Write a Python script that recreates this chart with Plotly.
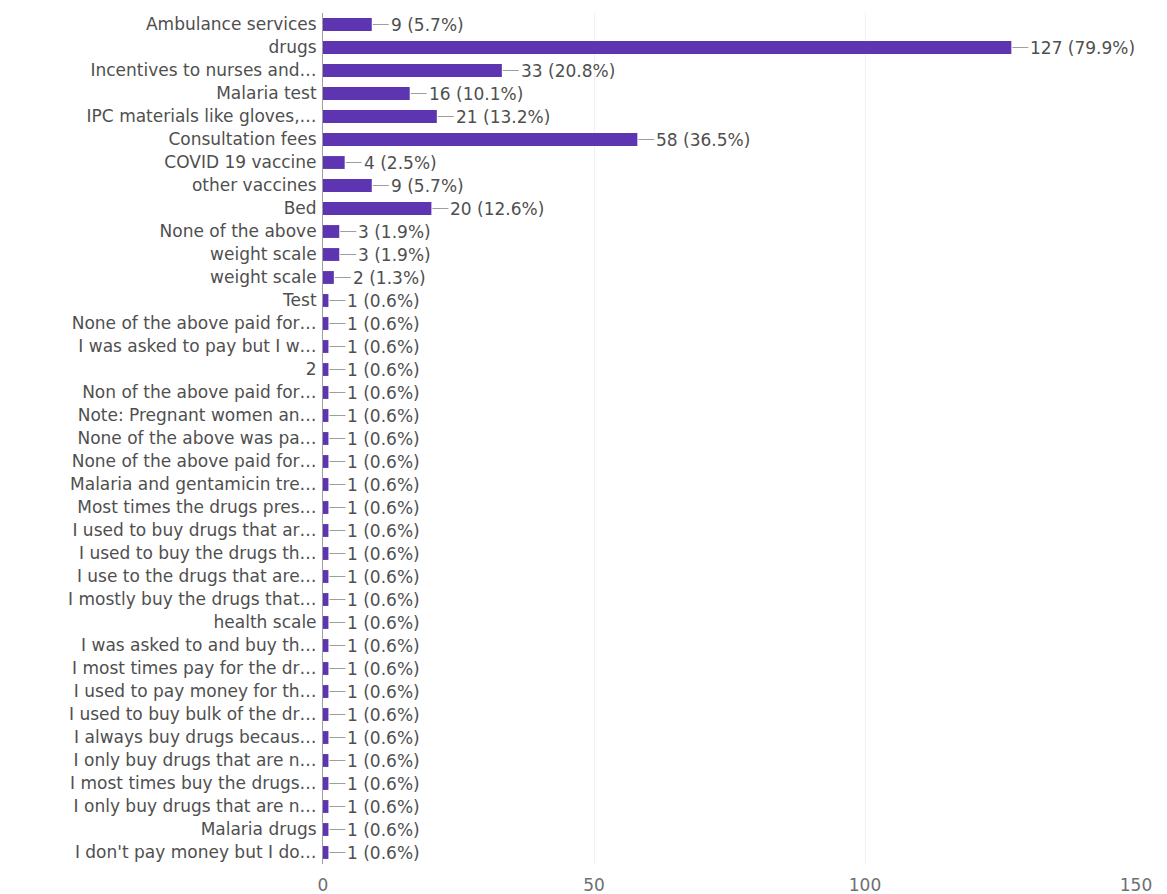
"""
Horizontal bar chart of what respondents paid for (Google Forms style summary).
"""
import plotly.graph_objects as go

# answers in the order they appear, top to bottom
answers = [
    "Ambulance services",
    "drugs",
    "Incentives to nurses and…",
    "Malaria test",
    "IPC materials like gloves,…",
    "Consultation fees",
    "COVID 19 vaccine",
    "other vaccines",
    "Bed",
    "None of the above",
    "weight scale",
    "weight scale",
    "Test",
    "None of the above paid for…",
    "I was asked to pay but I w…",
    "2",
    "Non of the above paid for…",
    "Note: Pregnant women an…",
    "None of the above was pa…",
    "None of the above paid for…",
    "Malaria and gentamicin tre…",
    "Most times the drugs pres…",
    "I used to buy drugs that ar…",
    "I used to buy the drugs th…",
    "I use to the drugs that are…",
    "I mostly buy the drugs that…",
    "health scale",
    "I was asked to and buy th…",
    "I most times pay for the dr…",
    "I used to pay money for th…",
    "I used to buy bulk of the dr…",
    "I always buy drugs becaus…",
    "I only buy drugs that are n…",
    "I most times buy the drugs…",
    "I only buy drugs that are n…",
    "Malaria drugs",
    "I don't pay money but I do…",
]
counts = [9, 127, 33, 16, 21, 58, 4, 9, 20, 3, 3, 2] + [1] * 25
total_responses = 159
x_ticks = [0, 50, 100, 150]

BAR_COLOR = "#5e35b1"
TEXT_COLOR = "#4f4f4f"
FONT = "DejaVu Sans"

positions = list(range(len(answers)))

fig = go.Figure(go.Bar(
    x=counts,
    y=positions,
    orientation="h",
    marker=dict(color=BAR_COLOR, line=dict(width=0)),
    width=0.56,
    hoverinfo="skip",
))

# value labels with a short leader line from the bar end
for pos, val in zip(positions, counts):
    fig.add_annotation(
        x=val, y=pos,
        text=f"{val} ({val / total_responses * 100:.1f}%)",
        showarrow=True, arrowhead=0, arrowwidth=1, arrowcolor="#9e9e9e",
        ax=17, ay=0, axref="pixel", ayref="pixel",
        xanchor="left", yanchor="middle",
        font=dict(family=FONT, size=17, color=TEXT_COLOR),
        standoff=1, startstandoff=0,
    )

# page body has a default 8px margin, so the figure is a bit smaller than the window
fig.update_layout(
    width=1159, height=886,
    margin=dict(l=315, r=31, t=5, b=30),
    paper_bgcolor="white",
    plot_bgcolor="white",
    showlegend=False,
    font=dict(family=FONT, size=17, color=TEXT_COLOR),
)
fig.update_xaxes(
    range=[0, 150],
    tickvals=x_ticks,
    automargin=False,
    showgrid=True, gridcolor="#f1f1f1", gridwidth=1,
    zeroline=False, showline=False,
    tickfont=dict(family=FONT, size=17, color="#6f6f6f"),
    ticks="", ticklen=0, ticklabelstandoff=9,
)
fig.update_yaxes(
    tickvals=positions,
    ticktext=answers,
    automargin=False,
    autorange=False,
    range=[len(answers) - 0.5, -0.5],
    showgrid=False, zeroline=False,
    showline=True, linecolor="#9e9e9e", linewidth=1,
    ticks="", ticklabelstandoff=2,
    tickfont=dict(family=FONT, size=17, color=TEXT_COLOR),
)

fig.write_html("out.html")
